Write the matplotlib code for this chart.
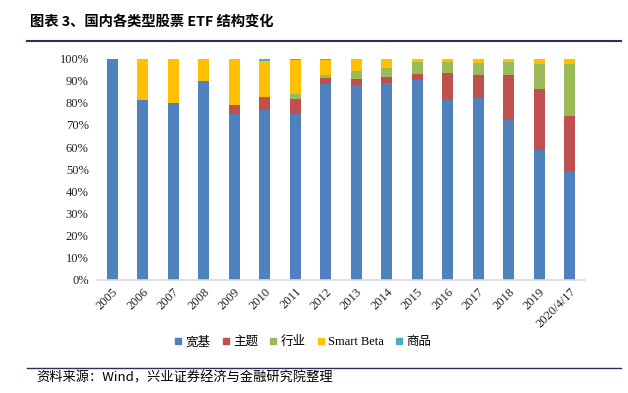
import matplotlib
matplotlib.use("Agg")
import matplotlib.pyplot as plt
import numpy as np
from matplotlib.lines import Line2D
from matplotlib.ticker import PercentFormatter

plt.rcParams['font.family'] = ['Liberation Serif', 'Noto Sans CJK SC', 'DejaVu Sans']

years = ['2005', '2006', '2007', '2008', '2009', '2010', '2011', '2012', '2013', '2014',
         '2015', '2016', '2017', '2018', '2019', '2020/4/17']
broad = [100, 81.1, 79.9, 89.8, 75.1, 76.7, 75.1, 88.6, 87.9, 88.9, 90.1, 81.3, 82.2, 72.2, 58.8, 49.4]
theme = [0, 0.3, 0, 0, 4.1, 5.8, 6.6, 2.7, 2.8, 2.6, 3.0, 12.2, 10.2, 20.5, 27.4, 24.6]
industry = [0, 0, 0, 0, 0, 0.2, 2.1, 1.4, 3.5, 4.3, 5.3, 4.9, 5.7, 5.7, 11.3, 23.5]
smart = [0, 18.6, 20.1, 10.2, 20.8, 16.2, 15.5, 6.7, 5.8, 4.2, 1.6, 1.6, 1.9, 1.6, 2.5, 2.5]
commodity = [0, 0, 0, 0, 0, 1.1, 0.7, 0.6, 0, 0, 0, 0, 0, 0, 0, 0]

names = ['宽基', '主题', '行业', 'Smart Beta', '商品']
colors = ['#4F81BD', '#C0504D', '#9BBB59', '#FFC000', '#4BACC6']
series = [broad, theme, industry, smart, commodity]

fig = plt.figure(figsize=(6.28, 3.93), dpi=100)
ax = fig.add_axes([97/628, 1-280/393, (585-97)/628, (280-58.5)/393])

x = np.arange(len(years))
bottom = np.zeros(len(years))
for vals, c in zip(series, colors):
    v = np.array(vals, dtype=float)
    ax.bar(x, v, bottom=bottom, width=0.37, color=c, edgecolor='none')
    bottom += v

ax.set_xlim(-0.5, len(years) - 0.5)
ax.set_ylim(0, 100)
ax.set_yticks(np.arange(0, 101, 10))
ax.yaxis.set_major_formatter(PercentFormatter(decimals=0))
ax.set_xticks(x)
ax.set_xticklabels(years, rotation=45, ha='right', rotation_mode='anchor')
ax.tick_params(axis='both', length=0, labelsize=9, colors='#222222')
ax.tick_params(axis='x', pad=4)
ax.tick_params(axis='y', pad=6)
for s in ['top', 'right', 'left']:
    ax.spines[s].set_visible(False)
ax.spines['bottom'].set_color('#D9D9D9')
ax.spines['bottom'].set_linewidth(1.2)

handles = [Line2D([], [], marker='s', linestyle='none', markersize=4,
                  markerfacecolor=c, markeredgecolor=c) for c in colors]
fig.legend(handles, names, loc='center', bbox_to_anchor=(303/628, 1-342/393), ncol=5,
           frameon=False, handlelength=0.6, handletextpad=0.3, columnspacing=0.9,
           prop={'family': ['Liberation Serif', 'Noto Sans CJK SC'], 'size': 9})

fig.text(30/628, 1-22/393, '图表 3、国内各类型股票 ETF 结构变化', fontsize=10.3, fontweight='bold',
         va='center', ha='left', family=['Noto Sans CJK SC', 'DejaVu Sans'])
fig.add_artist(Line2D([27/628, 621/628], [1-41/393, 1-41/393], color='#2E2E5E', lw=1.5))
fig.add_artist(Line2D([27/628, 621/628], [1-367.5/393, 1-367.5/393], color='#2E2E5E', lw=1.0))
fig.text(36/628, 1-378/393, '资料来源：Wind，兴业证券经济与金融研究院整理', fontsize=9.5,
         va='center', ha='left', family=['Noto Sans CJK SC', 'DejaVu Sans'])

fig.savefig('out.png', dpi=100)
